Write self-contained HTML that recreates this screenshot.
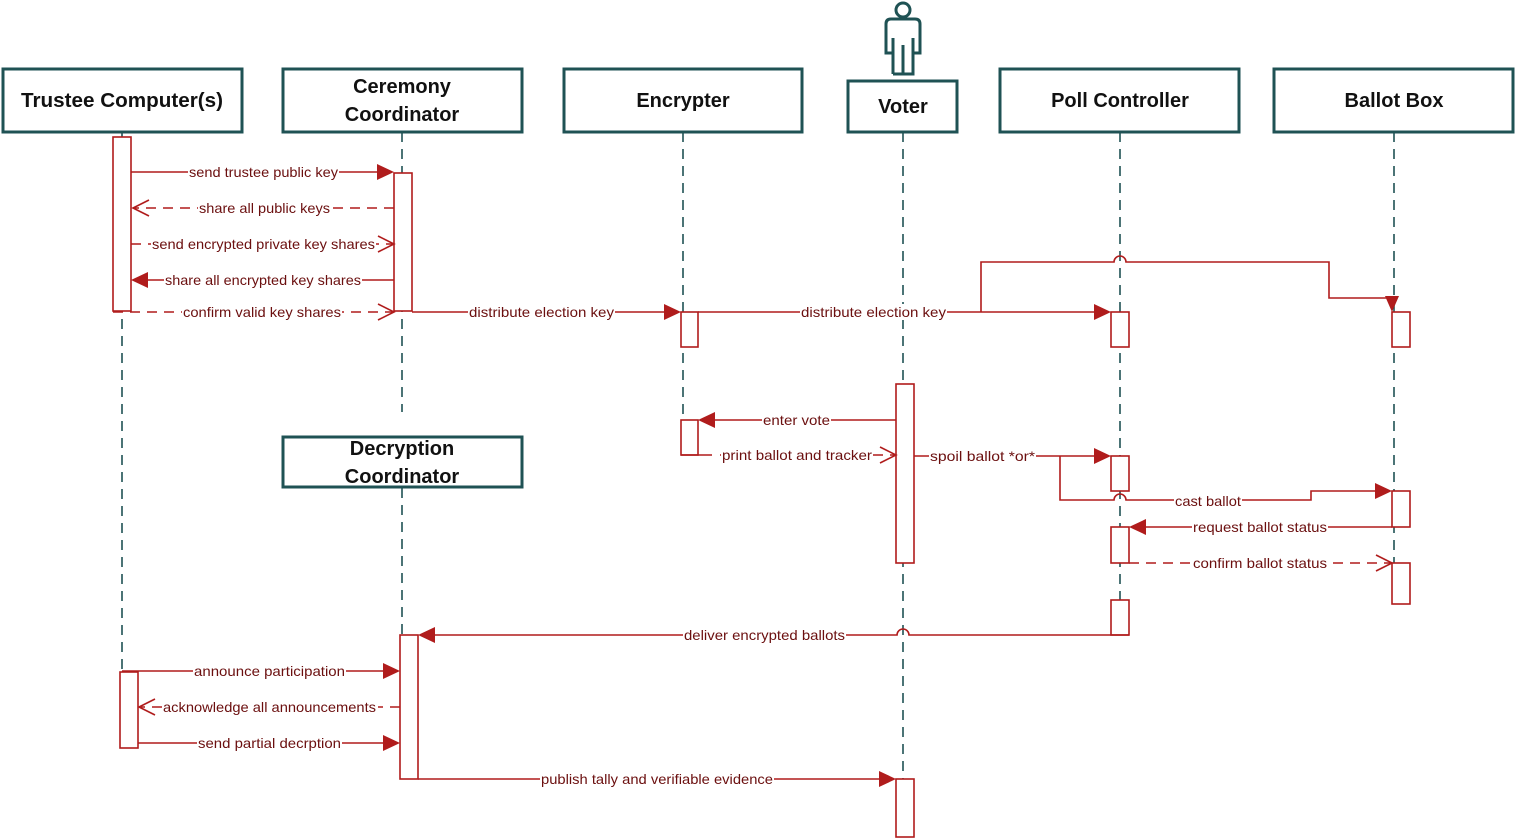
<!DOCTYPE html>
<html><head><meta charset="utf-8"><style>
html,body{margin:0;padding:0;background:#fff;}
svg{display:block;}
.hd{font-family:"Liberation Sans",sans-serif;font-weight:bold;font-size:20px;fill:#111;text-anchor:middle;}
.lb{font-family:"Liberation Sans",sans-serif;font-size:14px;fill:#6b0f0f;}
.box{fill:#fff;stroke:#1f5254;stroke-width:3;}
.ll{stroke:#1f5254;stroke-width:1.6;stroke-dasharray:10,7;fill:none;}
.m{stroke:#b01c1c;stroke-width:1.6;fill:none;}
.d{stroke:#b01c1c;stroke-width:1.6;fill:none;stroke-dasharray:10,7;}
.act{fill:#fff;stroke:#b01c1c;stroke-width:1.6;}
.ah{fill:#b01c1c;stroke:none;}
.oa{fill:none;stroke:#b01c1c;stroke-width:1.6;}
.bg{fill:#fff;}
</style></head><body>
<svg width="1516" height="839" viewBox="0 0 1516 839" xmlns="http://www.w3.org/2000/svg">
<line class="ll" x1="122" y1="132" x2="122" y2="672"/>
<line class="ll" x1="402" y1="132" x2="402" y2="412"/>
<line class="ll" x1="402" y1="488" x2="402" y2="635"/>
<line class="ll" x1="683" y1="132" x2="683" y2="420"/>
<line class="ll" x1="903" y1="132" x2="903" y2="779"/>
<line class="ll" x1="1120" y1="132" x2="1120" y2="600"/>
<line class="ll" x1="1394" y1="132" x2="1394" y2="563"/>

<rect class="box" x="3" y="69" width="239" height="63"/>
<text class="hd" x="122" y="107" textLength="202" lengthAdjust="spacingAndGlyphs">Trustee Computer(s)</text>
<rect class="box" x="283" y="69" width="239" height="63"/>
<text class="hd" x="402" y="93">Ceremony</text>
<text class="hd" x="402" y="121">Coordinator</text>
<rect class="box" x="564" y="69" width="238" height="63"/>
<text class="hd" x="683" y="107">Encrypter</text>
<rect class="box" x="848" y="81" width="109" height="51"/>
<text class="hd" x="903" y="113">Voter</text>
<rect class="box" x="1000" y="69" width="239" height="63"/>
<text class="hd" x="1120" y="107">Poll Controller</text>
<rect class="box" x="1274" y="69" width="239" height="63"/>
<text class="hd" x="1394" y="107">Ballot Box</text>
<rect class="box" x="283" y="437" width="239" height="50"/>
<text class="hd" x="402" y="455">Decryption</text>
<text class="hd" x="402" y="483">Coordinator</text>

<g stroke="#1f5254" stroke-width="3" fill="none">
<circle cx="903" cy="10" r="7"/>
<path d="M893 74 V38 M893 74 H913 V38 M903 74 V45 M893 53 H886 V24 Q886 19 891 19 H915 Q920 19 920 24 V53 H913"/>
</g>

<rect class="act" x="113" y="137" width="18" height="174"/>
<rect class="act" x="394" y="173" width="18" height="138"/>
<rect class="act" x="681" y="312" width="17" height="35"/>
<rect class="act" x="681" y="420" width="17" height="35"/>
<rect class="act" x="896" y="384" width="18" height="179"/>
<rect class="act" x="896" y="779" width="18" height="58"/>
<rect class="act" x="1111" y="312" width="18" height="35"/>
<rect class="act" x="1111" y="456" width="18" height="35"/>
<rect class="act" x="1111" y="527" width="18" height="36"/>
<rect class="act" x="1111" y="600" width="18" height="35"/>
<rect class="act" x="1392" y="312" width="18" height="35"/>
<rect class="act" x="1392" y="491" width="18" height="36"/>
<rect class="act" x="1392" y="563" width="18" height="41"/>
<rect class="act" x="400" y="635" width="18" height="144"/>
<rect class="act" x="120" y="672" width="18" height="76"/>

<line class="m" x1="131" y1="172" x2="380" y2="172"/><polygon class="ah" points="394,172 377,164 377,180"/>
<rect class="bg" x="188" y="164" width="151" height="16"/><text class="lb" x="189" y="177" textLength="149" lengthAdjust="spacingAndGlyphs">send trustee public key</text>

<line class="d" x1="394" y1="208" x2="133" y2="208"/><path class="oa" d="M149 200 L133 208 L149 216"/>
<rect class="bg" x="198" y="200" width="133" height="16"/><text class="lb" x="199" y="213" textLength="131" lengthAdjust="spacingAndGlyphs">share all public keys</text>

<line class="d" x1="131" y1="244" x2="394" y2="244"/><path class="oa" d="M378 236 L394 244 L378 252"/>
<rect class="bg" x="151" y="236" width="225" height="16"/><text class="lb" x="152" y="249" textLength="223" lengthAdjust="spacingAndGlyphs">send encrypted private key shares</text>

<line class="m" x1="394" y1="280" x2="145" y2="280"/><polygon class="ah" points="131,280 148,272 148,288"/>
<rect class="bg" x="164" y="272" width="198" height="16"/><text class="lb" x="165" y="285" textLength="196" lengthAdjust="spacingAndGlyphs">share all encrypted key shares</text>

<line class="d" x1="113" y1="312" x2="394" y2="312"/><path class="oa" d="M378 304 L394 312 L378 320"/>
<rect class="bg" x="182" y="304" width="160" height="16"/><text class="lb" x="183" y="317" textLength="158" lengthAdjust="spacingAndGlyphs">confirm valid key shares</text>

<line class="m" x1="412" y1="312" x2="667" y2="312"/><polygon class="ah" points="681,312 664,304 664,320"/>
<rect class="bg" x="468" y="304" width="147" height="16"/><text class="lb" x="469" y="317" textLength="145" lengthAdjust="spacingAndGlyphs">distribute election key</text>

<line class="m" x1="698" y1="312" x2="1097" y2="312"/><polygon class="ah" points="1111,312 1094,304 1094,320"/>
<rect class="bg" x="800" y="304" width="147" height="16"/><text class="lb" x="801" y="317" textLength="145" lengthAdjust="spacingAndGlyphs">distribute election key</text>
<path class="m" d="M981 312 V262 H1114 A6 6 0 0 1 1126 262 H1329 V298 H1392 V304"/>
<polygon class="ah" points="1392,312 1385,296 1399,296"/>

<line class="m" x1="896" y1="420" x2="712" y2="420"/><polygon class="ah" points="698,420 715,412 715,428"/>
<rect class="bg" x="762" y="412" width="69" height="16"/><text class="lb" x="763" y="425" textLength="67" lengthAdjust="spacingAndGlyphs">enter vote</text>

<line class="m" x1="681" y1="455" x2="712" y2="455"/>
<line class="d" x1="720" y1="455" x2="896" y2="455"/><path class="oa" d="M880 447 L896 455 L880 463"/>
<rect class="bg" x="721" y="447" width="152" height="16"/><text class="lb" x="722" y="460" textLength="150" lengthAdjust="spacingAndGlyphs">print ballot and tracker</text>

<line class="m" x1="914" y1="456" x2="1097" y2="456"/><polygon class="ah" points="1111,456 1094,448 1094,464"/>
<rect class="bg" x="929" y="448" width="107" height="16"/><text class="lb" x="930" y="461" textLength="105" lengthAdjust="spacingAndGlyphs">spoil ballot *or*</text>
<path class="m" d="M1060 456 V500 H1114 A6 6 0 0 1 1126 500 H1311 V491 H1378"/>
<polygon class="ah" points="1392,491 1375,483 1375,499"/>
<rect class="bg" x="1174" y="493" width="68" height="16"/><text class="lb" x="1175" y="506" textLength="66" lengthAdjust="spacingAndGlyphs">cast ballot</text>

<line class="m" x1="1392" y1="527" x2="1143" y2="527"/><polygon class="ah" points="1129,527 1146,519 1146,535"/>
<rect class="bg" x="1192" y="519" width="136" height="16"/><text class="lb" x="1193" y="532" textLength="134" lengthAdjust="spacingAndGlyphs">request ballot status</text>

<line class="d" x1="1129" y1="563" x2="1392" y2="563"/><path class="oa" d="M1376 555 L1392 563 L1376 571"/>
<rect class="bg" x="1192" y="555" width="136" height="16"/><text class="lb" x="1193" y="568" textLength="134" lengthAdjust="spacingAndGlyphs">confirm ballot status</text>

<path class="m" d="M1129 635 H909 A6 6 0 0 0 897 635 H432"/>
<polygon class="ah" points="418,635 435,627 435,643"/>
<rect class="bg" x="683" y="627" width="163" height="16"/><text class="lb" x="684" y="640" textLength="161" lengthAdjust="spacingAndGlyphs">deliver encrypted ballots</text>

<line class="m" x1="122" y1="671" x2="386" y2="671"/><polygon class="ah" points="400,671 383,663 383,679"/>
<rect class="bg" x="193" y="663" width="153" height="16"/><text class="lb" x="194" y="676" textLength="151" lengthAdjust="spacingAndGlyphs">announce participation</text>

<line class="d" x1="400" y1="707" x2="139" y2="707"/><path class="oa" d="M155 699 L139 707 L155 715"/>
<rect class="bg" x="162" y="699" width="216" height="16"/><text class="lb" x="163" y="712" textLength="213" lengthAdjust="spacingAndGlyphs">acknowledge all announcements</text>

<line class="m" x1="138" y1="743" x2="386" y2="743"/><polygon class="ah" points="400,743 383,735 383,751"/>
<rect class="bg" x="197" y="735" width="145" height="16"/><text class="lb" x="198" y="748" textLength="143" lengthAdjust="spacingAndGlyphs">send partial decrption</text>

<line class="m" x1="418" y1="779" x2="882" y2="779"/><polygon class="ah" points="896,779 879,771 879,787"/>
<rect class="bg" x="540" y="771" width="234" height="16"/><text class="lb" x="541" y="784" textLength="232" lengthAdjust="spacingAndGlyphs">publish tally and verifiable evidence</text>
</svg>
</body></html>
